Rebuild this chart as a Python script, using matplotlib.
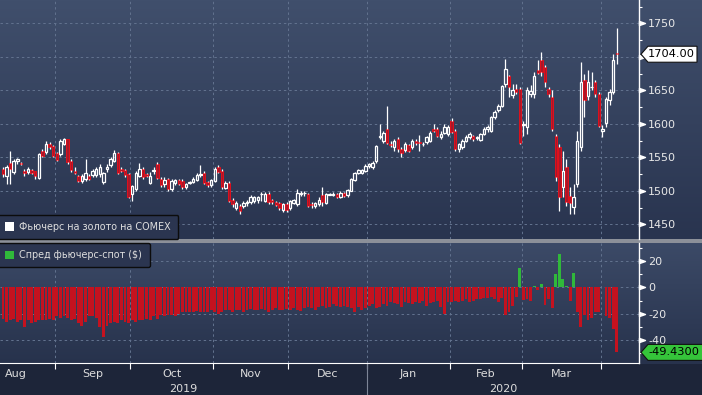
import numpy as np
import pandas as pd
import matplotlib
matplotlib.use('Agg')
import matplotlib.pyplot as plt
from matplotlib.patches import Patch, Polygon
from matplotlib.path import Path
from matplotlib.colors import to_rgb
from matplotlib.ticker import MultipleLocator

plt.rcParams['font.family'] = ['DejaVu Sans']
plt.rcParams['axes.unicode_minus'] = False

# trading days on the chart (Aug 12 2019 .. Apr 7 2020)
dates = pd.bdate_range('2019-08-12', '2020-04-07')

# COMEX gold futures, daily OHLC
opens = [1532, 1522, 1542, 1528, 1544, 1541, 1530, 1528, 1531, 1529, 1519, 1559, 1558, 1570, 1567,
         1556, 1555, 1570, 1577, 1545, 1530, 1522, 1514, 1518, 1522, 1524, 1524, 1525, 1513, 1533,
         1538, 1545, 1557, 1532, 1531, 1525,
         1495, 1502, 1522, 1532, 1525, 1512, 1530, 1540, 1517, 1510, 1517, 1503, 1511, 1516, 1514,
         1506, 1512, 1513, 1516, 1524, 1527, 1513, 1508,
         1515, 1536, 1530, 1504, 1512, 1487, 1475, 1478, 1478, 1482, 1483, 1485, 1486, 1495, 1485,
         1495, 1486, 1483, 1482, 1471, 1481,
         1475, 1482, 1480, 1495, 1496, 1495, 1481, 1477, 1480, 1493, 1482, 1494, 1494, 1495, 1491,
         1496, 1493, 1500, 1516, 1527, 1527, 1530,
         1537, 1535, 1544, 1580, 1575, 1592, 1570, 1565, 1577, 1562, 1561, 1568, 1565, 1574, 1573,
         1570, 1573, 1575, 1593, 1593, 1580, 1587, 1585,
         1605, 1590, 1562, 1565, 1575, 1580, 1582, 1579, 1576, 1585, 1592, 1590, 1610, 1620, 1627,
         1660, 1671, 1643, 1652, 1652,
         1598, 1595, 1645, 1644, 1680, 1695, 1685, 1652, 1640, 1582, 1566, 1506, 1536, 1492, 1476,
         1510, 1566, 1665, 1641, 1655, 1662, 1644,
         1590, 1602, 1636, 1648, 1706]
highs = [1535, 1538, 1560, 1548, 1549, 1543, 1532, 1535, 1533, 1530, 1556, 1562, 1575, 1573, 1569,
         1558, 1577, 1579, 1578, 1547, 1535, 1524, 1525, 1547, 1525, 1533, 1535, 1540, 1528, 1540,
         1550, 1561, 1558, 1535, 1533, 1527,
         1508, 1530, 1542, 1535, 1527, 1528, 1535, 1543, 1520, 1520, 1519, 1517, 1518, 1517, 1517,
         1512, 1515, 1520, 1527, 1539, 1529, 1515, 1518,
         1535, 1538, 1532, 1514, 1514, 1489, 1485, 1480, 1485, 1486, 1493, 1492, 1492, 1498, 1498,
         1498, 1488, 1485, 1484, 1482, 1483,
         1487, 1488, 1502, 1499, 1499, 1497, 1483, 1484, 1490, 1505, 1497, 1497, 1498, 1496, 1499,
         1498, 1503, 1519, 1528, 1533, 1533, 1540,
         1542, 1545, 1568, 1600, 1590, 1626, 1575, 1578, 1580, 1565, 1573, 1570, 1578, 1578, 1583,
         1573, 1582, 1590, 1600, 1595, 1590, 1600, 1598,
         1608, 1592, 1572, 1577, 1583, 1588, 1584, 1582, 1587, 1595, 1598, 1612, 1620, 1630, 1658,
         1697, 1673, 1660, 1660, 1655,
         1605, 1655, 1658, 1677, 1696, 1708, 1688, 1655, 1650, 1585, 1570, 1560, 1548, 1505, 1510,
         1590, 1693, 1675, 1680, 1678, 1665, 1648,
         1598, 1640, 1652, 1705, 1743]
lows = [1520, 1510, 1510, 1525, 1540, 1538, 1522, 1525, 1525, 1518, 1518, 1550, 1555, 1562, 1550,
        1545, 1552, 1568, 1540, 1528, 1525, 1513, 1512, 1515, 1516, 1521, 1520, 1520, 1510, 1528,
        1535, 1543, 1525, 1528, 1520, 1489,
        1485, 1500, 1520, 1518, 1520, 1510, 1525, 1517, 1505, 1505, 1500, 1500, 1508, 1508, 1502,
        1503, 1510, 1511, 1514, 1520, 1510, 1505, 1505,
        1513, 1526, 1503, 1502, 1483, 1476, 1472, 1466, 1475, 1478, 1480, 1482, 1482, 1485, 1483,
        1481, 1480, 1477, 1472, 1468, 1469,
        1472, 1480, 1478, 1492, 1492, 1476, 1474, 1474, 1478, 1477, 1480, 1493, 1492, 1489, 1489,
        1490, 1491, 1499, 1514, 1525, 1525, 1528,
        1534, 1533, 1542, 1578, 1572, 1570, 1565, 1560, 1558, 1550, 1558, 1558, 1563, 1568, 1560,
        1567, 1570, 1573, 1588, 1580, 1578, 1585, 1582,
        1586, 1560, 1558, 1563, 1573, 1578, 1575, 1576, 1574, 1583, 1588, 1588, 1607, 1618, 1625,
        1655, 1640, 1638, 1645, 1570,
        1582, 1585, 1640, 1638, 1675, 1672, 1655, 1640, 1590, 1515, 1470, 1490, 1478, 1465, 1465,
        1505, 1560, 1610, 1635, 1650, 1640, 1595,
        1580, 1595, 1628, 1645, 1690]
closes = [1525, 1535, 1532, 1545, 1547, 1540, 1526, 1532, 1527, 1522, 1555, 1552, 1570, 1565, 1552,
          1546, 1575, 1577, 1543, 1531, 1527, 1515, 1522, 1527, 1518, 1530, 1532, 1535, 1526, 1535,
          1547, 1557, 1527, 1530, 1523, 1491,
          1507, 1527, 1532, 1521, 1522, 1522, 1531, 1519, 1508, 1516, 1502, 1515, 1516, 1510, 1505,
          1510, 1513, 1518, 1524, 1525, 1512, 1508, 1516,
          1532, 1528, 1505, 1512, 1485, 1480, 1482, 1470, 1482, 1484, 1491, 1490, 1490, 1495, 1495,
          1483, 1483, 1479, 1475, 1480, 1471,
          1485, 1486, 1497, 1497, 1496, 1478, 1479, 1482, 1487, 1483, 1495, 1495, 1495, 1491, 1497,
          1492, 1501, 1517, 1527, 1531, 1531, 1537,
          1540, 1542, 1567, 1582, 1587, 1572, 1568, 1575, 1562, 1557, 1570, 1560, 1575, 1572, 1571,
          1570, 1580, 1587, 1590, 1582, 1585, 1596, 1595,
          1588, 1562, 1570, 1575, 1580, 1585, 1577, 1580, 1585, 1592, 1595, 1610, 1617, 1627, 1656,
          1682, 1655, 1650, 1648, 1572,
          1600, 1650, 1649, 1672, 1676, 1677, 1662, 1645, 1592, 1520, 1490, 1530, 1483, 1482, 1491,
          1574, 1663, 1635, 1662, 1655, 1644, 1597,
          1593, 1637, 1648, 1695, 1704]

# futures - spot spread, $
spread = [-24, -26, -25, -24, -26, -25, -30, -25, -27, -26, -25, -25, -25, -24, -25,
          -22, -23, -22, -23, -25, -24, -27, -29, -26, -22, -22, -23, -30, -37.5, -29, -27, -26,
          -27, -25, -26, -27,
          -25, -26, -25, -25, -24, -25, -22, -24, -21, -22, -21, -21, -22, -20, -18.5, -19, -18.5,
          -18.5, -18, -19, -18.5, -18.5, -17,
          -18.5, -20, -18.5, -17, -17.5, -18.5, -17, -17.5, -18.5, -17, -16.5, -17, -17, -16.5,
          -17.5, -18.5, -17, -16, -17, -17.5, -16.5,
          -17, -16, -17, -18, -16, -15, -16, -17, -15, -14, -16, -15, -13, -14, -15, -14, -15, -16,
          -18.5, -15, -17, -16,
          -14, -13, -16, -15, -13, -14, -11, -12, -13, -15, -11, -12, -13, -11, -12, -10, -14, -12,
          -11, -10, -15, -20, -11,
          -11, -10, -11, -10, -9, -11, -10, -9, -9, -8, -8, -7, -9, -11, -8, -21, -19, -14, -7, 14.5,
          -9.6, -8.5, -10, 1, -2, 2.5, -13.5, -9, -16, 10, 25, 6, 1, -10, 11, -18.5, -30, -21, -25,
          -23.6, -18.5, -19,
          0.5, -22, -23.6, -32, -49.43]

month_labels = ['Aug', 'Sep', 'Oct', 'Nov', 'Dec', 'Jan', 'Feb', 'Mar']
year_labels = ['2019', '2020']
price_ticks = [1450, 1500, 1550, 1600, 1650, 1700, 1750]
spread_ticks = [-40, -20, 0, 20]
last_price = 1704.00
last_spread = -49.43

assert len(opens) == len(highs) == len(lows) == len(closes) == len(spread) == len(dates)

W, H = 702, 395
fig = plt.figure(figsize=(W / 100, H / 100), dpi=100)

# background gradient
bg_rows = np.zeros((H, 1, 3))
def ramp(c1, c2, n):
    return np.linspace(to_rgb(c1), to_rgb(c2), n)
bg_rows[0:239, 0] = ramp('#404f6c', '#29344f', 239)
bg_rows[239:243, 0] = to_rgb('#8c9099')
bg_rows[243:364, 0] = ramp('#3c4a67', '#27324c', 121)
bg_rows[364:, 0] = to_rgb('#1d2539')
bg = fig.add_axes([0, 0, 1, 1], zorder=-5)
bg.imshow(bg_rows, aspect='auto', extent=[0, 1, 0, 1], interpolation='nearest')
bg.axis('off')

ax = fig.add_axes([0, 1 - 239 / H, 639 / W, 239 / H])
ax2 = fig.add_axes([0, 1 - 363 / H, 639 / W, 120 / H])

x = np.arange(len(dates))
month_id = dates.year * 12 + dates.month
bounds = [i - 0.5 for i in range(1, len(dates)) if month_id[i] != month_id[i - 1]]
xlim = (-0.82, 177.2)

grid_kw = dict(color='#63738f', linestyle=(0, (2.5, 3)), linewidth=0.7)
for a in (ax, ax2):
    a.set_facecolor('none')
    a.set_xlim(*xlim)
    a.set_xticks(bounds)
    a.grid(axis='x', **grid_kw)
    a.grid(axis='y', which='major', **grid_kw)
    a.set_axisbelow(True)
    for s in ('left', 'top'):
        a.spines[s].set_visible(False)
    a.spines['right'].set_color('white')
    a.spines['right'].set_linewidth(1)
    a.yaxis.tick_right()
    a.tick_params(axis='y', which='major', length=0, pad=6.5, labelsize=8, labelcolor='#e8e8e8')
    a.tick_params(axis='y', which='minor', length=2.5, width=0.8, color='white')
ax.spines['bottom'].set_visible(False)
ax.tick_params(axis='x', length=0, labelbottom=False)
ax2.spines['bottom'].set_color('white')
ax2.tick_params(axis='x', length=4, width=0.8, color='white', direction='out', labelbottom=False)

# candles
o, h, l, c = (np.array(v, dtype=float) for v in (opens, highs, lows, closes))
up = c >= o
top = np.maximum(o, c)
bot = np.minimum(o, c)
ax.vlines(x, top, h, color='white', lw=0.9)
ax.vlines(x, l, bot, color='white', lw=0.9)
ax.bar(x[up], (top - bot)[up], bottom=bot[up], width=0.68, facecolor='none',
       edgecolor='white', lw=0.9)
ax.bar(x[~up], (top - bot)[~up], bottom=bot[~up], width=0.68, facecolor='#a8182a',
       edgecolor='#e0101c', lw=0.7)
ax.set_ylim(1428, 1785)
ax.set_yticks(price_ticks)
# the last-price tag sits where the 1700 label would be
ax.set_yticklabels(['' if t == 1700 else str(t) for t in price_ticks])
ax.yaxis.set_minor_locator(MultipleLocator(25))

# spread bars
sp = np.array(spread)
ax2.bar(x, sp, width=0.8, color=np.where(sp >= 0, '#30b83a', '#c4121f'), lw=0)
ax2.set_ylim(-57.5, 33.7)
ax2.set_yticks(spread_ticks)
ax2.yaxis.set_minor_locator(MultipleLocator(10))

# right-pointing tick markers
tri = Path([(0, -0.35), (1, 0), (0, 0.35), (0, -0.35)],
           [Path.MOVETO, Path.LINETO, Path.LINETO, Path.CLOSEPOLY])
for a, ticks in ((ax, price_ticks), (ax2, spread_ticks)):
    a.plot(np.ones(len(ticks)), ticks, ls='none', marker=tri, ms=8.6, color='white',
           transform=a.get_yaxis_transform(), clip_on=False)

# legends
leg_kw = dict(fontsize=6.9, labelcolor='#dedede', handlelength=0.95, handleheight=0.95,
              handletextpad=0.6, borderpad=0.75, framealpha=1, facecolor='#2b3550',
              edgecolor='#0c0c0c', borderaxespad=0)
ax.legend(handles=[Patch(facecolor='white', edgecolor='none')],
          labels=['Фьючерс на золото на COMEX'], loc='lower left',
          bbox_to_anchor=(-0.004, 0.0), **leg_kw)
ax2.legend(handles=[Patch(facecolor='#30b83a', edgecolor='none')],
           labels=['Спред фьючерс-спот ($)'], loc='upper left',
           bbox_to_anchor=(-0.004, 1.0), **leg_kw)

# month / year labels
month_keys = sorted(set(month_id))[:-1]
for lab, key in zip(month_labels, month_keys):
    last = np.where(month_id == key)[0][-1]
    yr, mo = divmod(key - 1, 12)
    mo += 1
    first_day = pd.Timestamp(yr, mo, 1)
    nb = len(pd.bdate_range(first_day, first_day + pd.offsets.MonthEnd(0)))
    center = last + 0.5 - nb / 2
    ax2.annotate(lab, xy=(center, 0), xycoords=('data', 'axes fraction'), xytext=(0, -11),
                 textcoords='offset pixels', ha='center', va='center', fontsize=8,
                 color='#dcdcdc')
year_split = bounds[4]
for lab, (a0, a1) in zip(year_labels, [(xlim[0], year_split), (year_split, xlim[1])]):
    ax2.annotate(lab, xy=((a0 + a1) / 2, 0), xycoords=('data', 'axes fraction'),
                 xytext=(0, -26), textcoords='offset pixels', ha='center', va='center',
                 fontsize=8, color='#dcdcdc')
ax2.plot([year_split, year_split], [0, -0.27], color='#7d8597', lw=0.8,
         transform=ax2.get_xaxis_transform(), clip_on=False)

# value tags on the right axis
def value_tag(a, val, text, fc, right):
    y_px = a.transData.transform((0, val))[1]
    x0 = a.transAxes.transform((1, 0))[0] + 2
    pts = np.array([(x0, y_px), (x0 + 7, y_px + 8), (right, y_px + 8),
                    (right, y_px - 8), (x0 + 7, y_px - 8)])
    fig.patches.append(Polygon(pts / [W, H], closed=True, transform=fig.transFigure,
                               facecolor=fc, edgecolor='#111111', lw=0.8, zorder=5))
    fig.text((x0 + 7) / W, y_px / H, text, ha='left', va='center', fontsize=8.2,
             color='black', zorder=6)

value_tag(ax, last_price, f'{last_price:.2f}', 'white', 697)
value_tag(ax2, last_spread, f'{last_spread:.4f}', '#35c43a', 703)

fig.savefig('out.png', dpi=100)
